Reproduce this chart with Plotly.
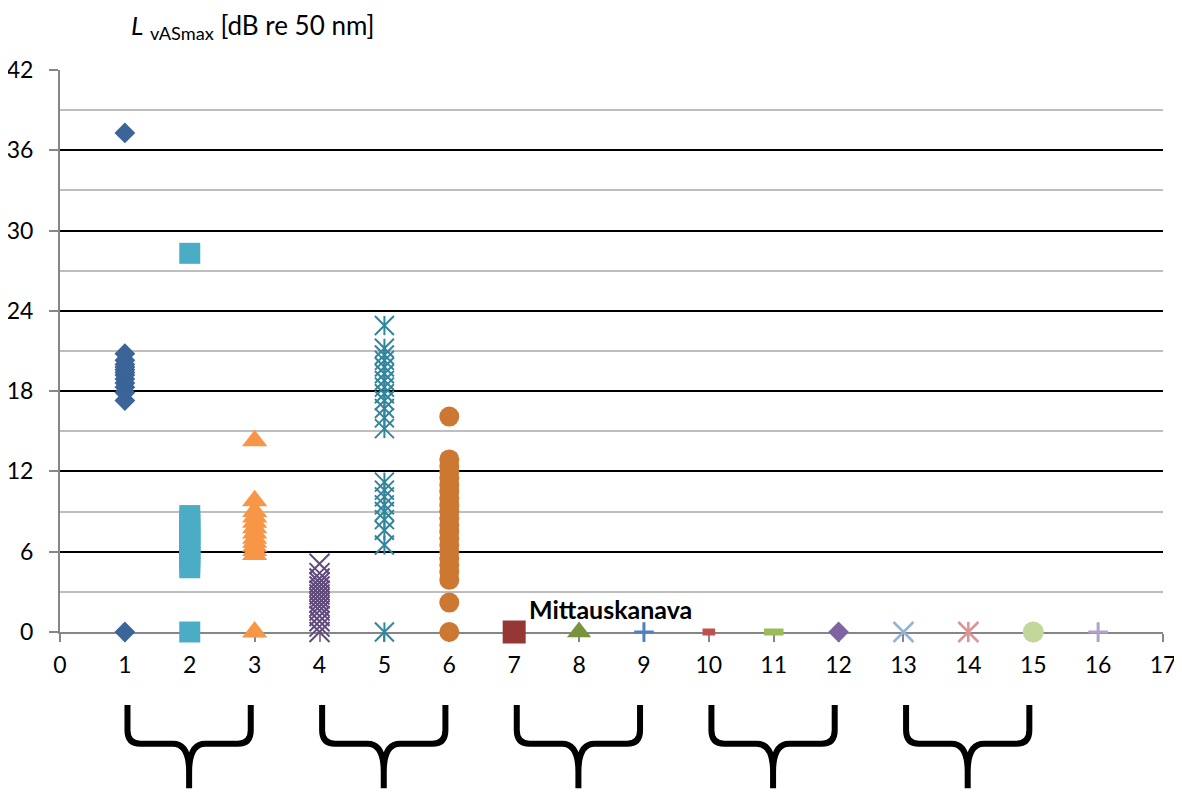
import plotly.graph_objects as go

# measured L_vASmax values per measurement channel (x = channel number)
ch1 = [0, 37.3, 17.3, 17.9, 18.3, 18.6, 18.9, 19.2, 19.4, 19.6, 19.8, 20.0, 20.3, 20.8]
ch2 = [0, 28.3, 4.8, 5.2, 5.6, 5.9, 6.2, 6.5, 6.8, 7.1, 7.4, 7.7, 8.0, 8.3, 8.7]
ch3 = [0, 14.3, 5.8, 6.1, 6.4, 6.7, 7.0, 7.4, 7.8, 8.2, 8.6, 9.0, 9.8]
ch4 = [0, 0.4, 0.8, 1.2, 1.6, 1.9, 2.2, 2.5, 2.8, 3.1, 3.4, 3.7, 4.0, 4.4, 5.1]
ch5 = [0, 6.5, 7.6, 8.4, 9.0, 9.5, 10.1, 10.6, 11.2, 15.2, 16.0, 16.7, 17.3,
       17.8, 18.3, 18.8, 19.3, 19.8, 20.3, 20.7, 21.2, 22.9]
ch6 = [0, 2.2, 3.9, 4.5, 5.0, 5.5, 6.0, 6.5, 7.0, 7.5, 8.0, 8.5, 9.0, 9.5,
       10.0, 10.5, 11.0, 11.5, 12.0, 12.4, 12.9, 16.1]
ch7 = [0]
ch8 = [0]
ch9 = [0]
ch10 = [0]
ch11 = [0]
ch12 = [0]
ch13 = [0]
ch14 = [0]
ch15 = [0]
ch16 = [0]

channels = [ch1, ch2, ch3, ch4, ch5, ch6, ch7, ch8,
            ch9, ch10, ch11, ch12, ch13, ch14, ch15, ch16]

# (symbol, size, color, line width) per channel, Excel-style markers
styles = [
    ("diamond", 16, "#3B6499", 0),
    ("square", 21, "#4BACC6", 0),
    ("triangle-up", 22, "#F79646", 0),
    ("x-thin", 20, "#604A7B", 2),
    ("asterisk", 19, "#31859C", 2),
    ("circle", 20, "#CC7832", 0),
    ("square", 23, "#953735", 0),
    ("triangle-up", 21, "#77933C", 0),
    ("cross-thin", 14, "#4F81BD", 3),
    ("line-ew", 9, "#C0504D", 7),
    ("line-ew", 14, "#9BBB59", 7),
    ("diamond", 16, "#8064A2", 0),
    ("x-thin", 20, "#95B3D7", 2.5),
    ("asterisk", 20, "#D99694", 2.5),
    ("circle", 21, "#C3D69B", 0),
    ("cross-thin", 14, "#B3A2C7", 3),
]

# channel groups marked with braces under the axis
groups = [(1, 3), (4, 6), (7, 9), (10, 12), (13, 15)]

fig = go.Figure()


def add_markers(xs, ys, symbol, size, color, lw):
    fig.add_trace(go.Scatter(
        x=xs, y=ys, mode="markers", cliponaxis=False, showlegend=False,
        marker=dict(symbol=symbol, size=size, color=color,
                    line=dict(width=lw, color=color))))


for i, (vals, st) in enumerate(zip(channels, styles)):
    xs = [i + 1] * len(vals)
    symbol, size, color, lw = st
    if symbol == "asterisk":
        # Excel asterisk = X with a vertical bar
        add_markers(xs, vals, "x-thin", size, color, lw)
        add_markers(xs, vals, "line-ns", size * 0.72, color, lw)
    else:
        add_markers(xs, vals, symbol, size, color, lw)

# braces (x in data units, y in paper units)
yt, yc, ym, ytip = -0.13, -0.175, -0.199, -0.278
for a, b in groups:
    left, right = a + 0.04, b - 0.06
    c = (left + right) / 2
    path = (f"M{left},{yt} L{left},{yc} Q{left},{ym} {left + 0.2},{ym} "
            f"L{c - 0.25},{ym} Q{c},{ym} {c},{ym - 0.05} L{c},{ytip} "
            f"M{right},{yt} L{right},{yc} Q{right},{ym} {right - 0.2},{ym} "
            f"L{c + 0.25},{ym} Q{c},{ym} {c},{ym - 0.05}")
    fig.add_shape(type="path", path=path, xref="x", yref="paper",
                  line=dict(color="black", width=6))

fig.add_annotation(x=8.49, y=1.72, xref="x", yref="y", text="<b>Mittauskanava</b>",
                   showarrow=False, font=dict(size=25, color="black"))
fig.add_annotation(x=0.0626, y=1.078, xref="paper", yref="paper",
                   xanchor="left", yanchor="middle", showarrow=False,
                   text="<i>L</i> <sub>vASmax</sub> [dB re 50 nm]",
                   font=dict(size=26, color="black"))

fig.update_xaxes(range=[0, 17], dtick=1, tick0=0, showgrid=False, zeroline=False,
                 showline=True, linecolor="#868686", linewidth=2, automargin=False,
                 ticks="outside", ticklen=8, tickcolor="#868686", tickwidth=2,
                 layer="below traces",
                 ticklabelstandoff=3, tickfont=dict(size=23, color="black"))
fig.update_yaxes(range=[0, 42], dtick=6, tick0=0, zeroline=False,
                 showgrid=True, gridcolor="black", gridwidth=1.6,
                 minor=dict(dtick=3, showgrid=True, gridcolor="#BEBEBE",
                            gridwidth=1.6),
                 showline=True, linecolor="#868686", linewidth=2, automargin=False,
                 ticks="outside", ticklen=9, tickcolor="#868686", tickwidth=2,
                 layer="below traces",
                 ticklabelstandoff=11, tickfont=dict(size=23, color="black"))

# page body adds an 8px offset, so the figure is drawn slightly smaller
fig.update_layout(width=1174, height=786, plot_bgcolor="white",
                  paper_bgcolor="white", font=dict(family="Lato"),
                  margin=dict(l=52, r=19, t=62, b=162))

fig.write_html("out.html")
